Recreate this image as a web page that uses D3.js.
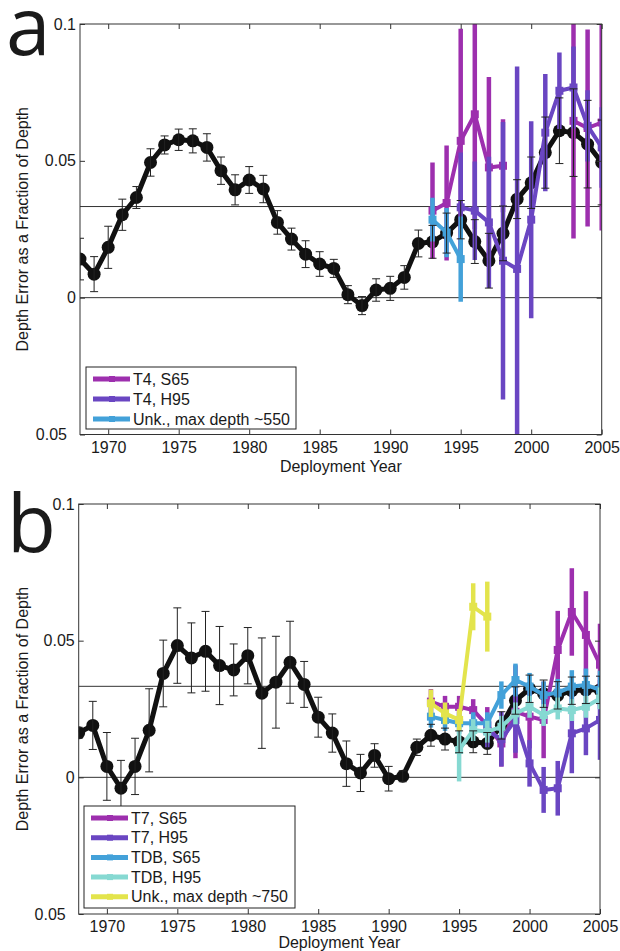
<!DOCTYPE html>
<html>
<head>
<meta charset="utf-8">
<script src="https://cdn.jsdelivr.net/npm/d3@7"></script>
<style>
  body { margin: 0; background: #fff; }
  svg { display: block; background: #fff; }
  text { font-family: "Liberation Sans", Arial, Helvetica, sans-serif; fill: #1a1a1a; }
</style>
</head>
<body>
<svg id="chart" width="620" height="951"></svg>
<script>
// ---- data ----------------------------------------------------------------
const years = [1968,1969,1970,1971,1972,1973,1974,1975,1976,1977,1978,1979,1980,1981,1982,1983,1984,1985,1986,1987,1988,1989,1990,1991,1992,1993,1994,1995,1996,1997,1998,1999,2000,2001,2002,2003,2004,2005];
const recentYears = [1993,1994,1995,1996,1997,1998,1999,2000,2001,2002,2003,2004,2005];

const xTicks = [1970,1975,1980,1985,1990,1995,2000,2005];
const xTickLabels = ["1970","1975","1980","1985","1990","1995","2000","2005"];
const yTicks = [0.1,0.05,0,-0.05];
const yTickLabels = ["0.1","0.05","0","0.05"];
const refLevel = 0.0333;

// panel a: all-probe mean and the T4 / unknown probe groups
const aAllMean = [0.0141,0.0086,0.0184,0.0303,0.0366,0.0494,0.0558,0.0577,0.0573,0.0549,0.0464,0.0394,0.0430,0.0397,0.0275,0.0214,0.0159,0.0123,0.0107,0.0011,-0.0029,0.0028,0.0034,0.0074,0.0198,0.0204,0.0236,0.0285,0.0205,0.0135,0.0235,0.0360,0.0420,0.0530,0.0610,0.0603,0.0561,0.0494];
const aAllErr  = [0.0076,0.0064,0.0077,0.0057,0.0040,0.0050,0.0033,0.0039,0.0044,0.0050,0.0050,0.0055,0.0049,0.0050,0.0043,0.0040,0.0049,0.0045,0.0033,0.0033,0.0033,0.0041,0.0044,0.0043,0.0049,0.0060,0.0073,0.0070,0.0080,0.0100,0.0100,0.0071,0.0094,0.0130,0.0120,0.0160,0.0160,0.0155];
const aT4S65   = [0.0318,0.0346,0.0573,0.0670,0.0476,0.0482,null,null,null,null,0.0646,0.0620,0.0640];
const aT4S65E  = [0.0176,0.0210,0.0410,0.0420,0.0330,0.0170,null,null,null,null,0.0430,0.0360,0.0395];
const aT4H95   = [null,null,0.0330,0.0318,0.0275,0.0135,0.0105,0.0285,0.0603,0.0756,0.0768,0.0628,0.0549];
const aT4H95E  = [null,null,0.0200,0.0180,0.0240,0.0507,0.0740,0.0360,0.0214,0.0140,0.0150,0.0130,0.0147];
const aUnk550  = [0.0285,0.0238,0.0141,null,null,null,null,null,null,null,null,null,null];
const aUnk550E = [0.0080,0.0090,0.0156,null,null,null,null,null,null,null,null,null,null];

// panel b: all-probe mean and the T7 / TDB / unknown probe groups
const bAllMean = [0.0163,0.0190,0.0040,-0.0040,0.0040,0.0172,0.0380,0.0482,0.0437,0.0461,0.0409,0.0393,0.0445,0.0308,0.0348,0.0421,0.0340,0.0220,0.0162,0.0050,0.0016,0.0080,-0.0005,0.0004,0.0110,0.0154,0.0140,0.0130,0.0130,0.0124,0.0190,0.0281,0.0324,0.0306,0.0300,0.0317,0.0320,0.0320];
const bAllErr  = [0.0020,0.0088,0.0124,0.0102,0.0103,0.0152,0.0122,0.0138,0.0128,0.0146,0.0143,0.0095,0.0103,0.0202,0.0168,0.0150,0.0084,0.0073,0.0070,0.0083,0.0068,0.0043,0.0045,0.0020,0.0030,0.0040,0.0040,0.0040,0.0040,0.0040,0.0050,0.0050,0.0050,0.0050,0.0050,0.0050,0.0050,0.0050];
const bT7S65   = [0.0277,0.0258,0.0258,0.0246,0.0190,0.0124,0.0240,0.0222,0.0210,0.0466,0.0605,0.0521,0.0412];
const bT7S65E  = [0.0046,0.0040,0.0040,0.0040,0.0067,0.0085,0.0170,0.0116,0.0140,0.0143,0.0160,0.0160,0.0150];
const bT7H95   = [null,null,null,null,0.0170,0.0140,0.0210,0.0051,-0.0046,-0.0040,0.0161,0.0179,0.0210];
const bT7H95E  = [null,null,null,null,0.0060,0.0100,0.0120,0.0085,0.0084,0.0100,0.0146,0.0098,0.0146];
const bTDBS65  = [0.0222,0.0210,0.0198,0.0198,0.0198,0.0301,0.0356,0.0332,0.0301,0.0310,0.0332,0.0338,0.0320];
const bTDBS65E = [0.0040,0.0040,0.0040,0.0040,0.0040,0.0050,0.0060,0.0050,0.0050,0.0050,0.0060,0.0060,0.0070];
const bTDBH95  = [null,null,0.0100,0.0173,0.0167,0.0185,0.0234,0.0258,0.0228,0.0252,0.0246,0.0258,0.0289];
const bTDBH95E = [null,null,0.0115,0.0040,0.0040,0.0040,0.0040,0.0040,0.0040,0.0040,0.0040,0.0040,0.0040];
const bUnk750  = [0.0271,0.0234,0.0210,0.0624,0.0588,null,null,null,null,null,null,null,null];
const bUnk750E = [0.0050,0.0040,0.0040,0.0086,0.0128,null,null,null,null,null,null,null,null];

const legendA = ["T4, S65","T4, H95","Unk., max depth ~550"];
const legendB = ["T7, S65","T7, H95","TDB, S65","TDB, H95","Unk., max depth ~750"];

// ---- styling ----------------------------------------------------------------
const colors = {
  s65: "#9d2fae",
  h95: "#6a46c2",
  blue: "#43a1d9",
  teal: "#86d9d2",
  yellow: "#e3e44c",
  mean: "#111111"
};
const fontSize = "16px";

const svg = d3.select("#chart");

function drawPanel(opt) {
  const x = d3.scaleLinear().domain([1968, 2005]).range([opt.left, opt.right]);
  const y = d3.scaleLinear().domain([-0.05, 0.1]).range([opt.bottom, opt.top]);
  const g = svg.append("g");

  const clipId = "clip-" + opt.letter;
  g.append("clipPath").attr("id", clipId)
    .append("rect").attr("x", opt.left).attr("y", opt.top)
    .attr("width", opt.right - opt.left).attr("height", opt.bottom - opt.top);

  // big panel letter
  g.append("text").attr("x", opt.letterX).attr("y", opt.letterY)
    .style("font-size", "80px").style("font-family", '"Open Sans", "Liberation Sans", Arial, sans-serif')
    .attr("fill", "#111").text(opt.letter);

  // reference lines at zero and at the 1/30 level
  [0, refLevel].forEach(v => {
    g.append("line")
      .attr("x1", opt.left).attr("x2", opt.right)
      .attr("y1", y(v)).attr("y2", y(v))
      .attr("stroke", "#333").attr("stroke-width", 1);
  });

  const plot = g.append("g").attr("clip-path", `url(#${clipId})`);

  // mean curve: thick line with round markers
  const meanPts = years.map((yr, i) => ({ yr, v: opt.mean[i], e: opt.meanErr[i] }));
  plot.append("path").datum(meanPts)
    .attr("d", d3.line().x(d => x(d.yr)).y(d => y(d.v)))
    .attr("fill", "none").attr("stroke", colors.mean)
    .attr("stroke-width", 5).attr("stroke-linejoin", "round");
  plot.selectAll(null).data(meanPts).join("circle")
    .attr("cx", d => x(d.yr)).attr("cy", d => y(d.v)).attr("r", 6.5)
    .attr("fill", colors.mean);

  // probe-group series
  opt.series.forEach(s => {
    const pts = recentYears.map((yr, i) => ({ yr, v: s.values[i], e: s.errors[i] }));
    const have = pts.filter(d => d.v != null);
    plot.selectAll(null).data(have).join("line")
      .attr("x1", d => x(d.yr)).attr("x2", d => x(d.yr))
      .attr("y1", d => y(d.v + d.e)).attr("y2", d => y(d.v - d.e))
      .attr("stroke", s.color).attr("stroke-width", 4.5);
    plot.append("path").datum(pts)
      .attr("d", d3.line().defined(d => d.v != null).x(d => x(d.yr)).y(d => y(d.v)))
      .attr("fill", "none").attr("stroke", s.color)
      .attr("stroke-width", 4).attr("stroke-linejoin", "round");
    plot.selectAll(null).data(have).join("rect")
      .attr("x", d => x(d.yr) - 4).attr("y", d => y(d.v) - 4)
      .attr("width", 8).attr("height", 8).attr("fill", s.color);
  });

  // thin error bars with caps for the mean curve
  const capW = 4;
  const eb = plot.selectAll(null).data(meanPts).join("g").attr("stroke", "#222").attr("stroke-width", 1);
  eb.append("line").attr("x1", d => x(d.yr)).attr("x2", d => x(d.yr))
    .attr("y1", d => y(d.v + d.e)).attr("y2", d => y(d.v - d.e));
  eb.append("line").attr("x1", d => x(d.yr) - capW).attr("x2", d => x(d.yr) + capW)
    .attr("y1", d => y(d.v + d.e)).attr("y2", d => y(d.v + d.e));
  eb.append("line").attr("x1", d => x(d.yr) - capW).attr("x2", d => x(d.yr) + capW)
    .attr("y1", d => y(d.v - d.e)).attr("y2", d => y(d.v - d.e));

  // axes (ticks inward on all four sides)
  const tl = 5;
  const bottomAxis = d3.axisBottom(x).tickValues(xTicks).tickSizeInner(-tl).tickSizeOuter(0)
    .tickFormat((d, i) => xTickLabels[i]).tickPadding(7);
  const topAxis = d3.axisTop(x).tickValues(xTicks).tickSizeInner(-tl).tickSizeOuter(0).tickFormat("");
  const leftAxis = d3.axisLeft(y).tickValues(yTicks).tickSizeInner(-tl).tickSizeOuter(0)
    .tickFormat((d, i) => yTickLabels[i]).tickPadding(4);
  const rightAxis = d3.axisRight(y).tickValues(yTicks).tickSizeInner(-tl).tickSizeOuter(0).tickFormat("");

  const styleAxis = sel => {
    sel.select(".domain").remove();
    sel.selectAll(".tick line").attr("stroke", "#333");
    sel.selectAll(".tick text").attr("fill", "#1a1a1a")
      .style("font-family", '"Liberation Sans", Arial, sans-serif').style("font-size", fontSize);
  };
  g.append("g").attr("transform", `translate(0,${opt.bottom})`).call(bottomAxis).call(styleAxis);
  g.append("g").attr("transform", `translate(0,${opt.top})`).call(topAxis).call(styleAxis);
  const la = g.append("g").attr("transform", `translate(${opt.left},0)`).call(leftAxis).call(styleAxis);
  la.selectAll(".tick text").filter(d => d < 0).attr("dx", "-9");
  g.append("g").attr("transform", `translate(${opt.right},0)`).call(rightAxis).call(styleAxis);

  // plot box
  g.append("rect").attr("x", opt.left).attr("y", opt.top)
    .attr("width", opt.right - opt.left).attr("height", opt.bottom - opt.top)
    .attr("fill", "none").attr("stroke", "#333").attr("stroke-width", 1);

  // titles
  g.append("text").attr("x", (opt.left + opt.right) / 2).attr("y", opt.bottom + opt.titleGap)
    .attr("text-anchor", "middle").style("font-size", fontSize).text("Deployment Year");
  g.append("text")
    .attr("transform", `translate(28,${(opt.top + opt.bottom) / 2}) rotate(-90)`)
    .attr("text-anchor", "middle").style("font-size", fontSize)
    .text("Depth Error as a Fraction of Depth");

  // legend
  const L = opt.legend;
  const lg = g.append("g");
  lg.append("rect").attr("x", L.x).attr("y", L.y).attr("width", L.w).attr("height", L.h)
    .attr("fill", "#fff").attr("stroke", "#222").attr("stroke-width", 1);
  opt.series.forEach((s, i) => {
    const yy = L.y + L.first + i * L.step;
    lg.append("line").attr("x1", L.x + 7).attr("x2", L.x + 44).attr("y1", yy).attr("y2", yy)
      .attr("stroke", s.color).attr("stroke-width", 5);
    lg.append("rect").attr("x", L.x + 23).attr("y", yy - 3).attr("width", 6).attr("height", 6)
      .attr("fill", s.color);
    lg.append("text").attr("x", L.x + 47).attr("y", yy + 5.5).style("font-size", fontSize).text(s.name);
  });
}

drawPanel({
  letter: "a", letterX: 6, letterY: 55,
  left: 80, right: 601.7, top: 24, bottom: 434.5, titleGap: 37,
  mean: aAllMean, meanErr: aAllErr,
  series: [
    { name: legendA[0], values: aT4S65, errors: aT4S65E, color: colors.s65 },
    { name: legendA[1], values: aT4H95, errors: aT4H95E, color: colors.h95 },
    { name: legendA[2], values: aUnk550, errors: aUnk550E, color: colors.blue }
  ],
  legend: { x: 86, y: 367, w: 210, h: 62, first: 12, step: 20 }
});

drawPanel({
  letter: "b", letterX: 7, letterY: 552,
  left: 78.7, right: 600, top: 504, bottom: 914, titleGap: 34,
  mean: bAllMean, meanErr: bAllErr,
  series: [
    { name: legendB[0], values: bT7S65, errors: bT7S65E, color: colors.s65 },
    { name: legendB[1], values: bT7H95, errors: bT7H95E, color: colors.h95 },
    { name: legendB[2], values: bTDBS65, errors: bTDBS65E, color: colors.blue },
    { name: legendB[3], values: bTDBH95, errors: bTDBH95E, color: colors.teal },
    { name: legendB[4], values: bUnk750, errors: bUnk750E, color: colors.yellow }
  ],
  legend: { x: 84, y: 806, w: 211, h: 102, first: 12, step: 19.7 }
});
</script>
</body>
</html>
